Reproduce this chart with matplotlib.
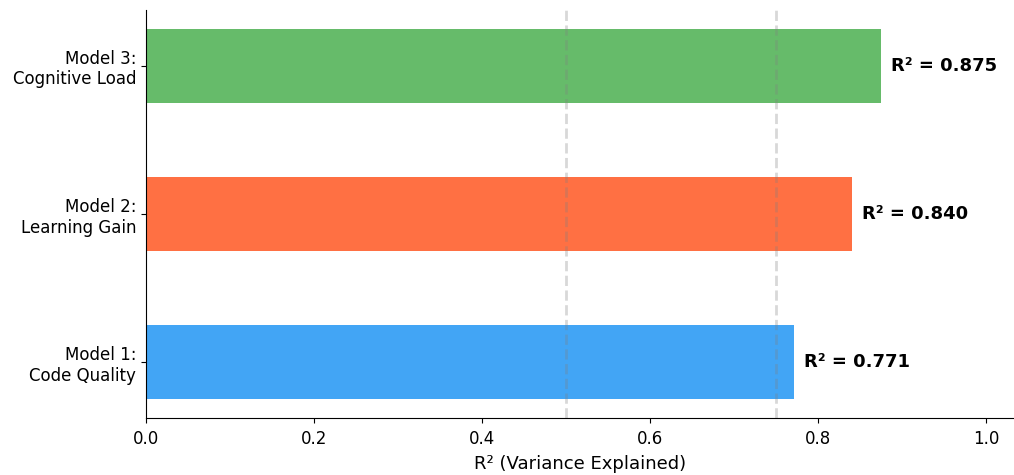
import matplotlib
matplotlib.use("Agg")
import matplotlib.pyplot as plt

models = ["Model 1:\nCode Quality", "Model 2:\nLearning Gain", "Model 3:\nCognitive Load"]
r2_values = [0.771, 0.840, 0.875]
colors = ["#42A5F5", "#FF7043", "#66BB6A"]
ref_lines = [0.5, 0.75]
xticks = [0.0, 0.2, 0.4, 0.6, 0.8, 1.0]

fig = plt.figure(figsize=(10.14, 4.75), dpi=100)
ax = fig.add_axes([0.144, 0.12, 0.856, 0.859])

ax.barh(range(len(models)), r2_values, height=0.5, color=colors)

for x in ref_lines:
    ax.axvline(x, color="gray", linestyle="--", linewidth=2, alpha=0.3)

for i, v in enumerate(r2_values):
    ax.text(v + 0.012, i, f"R² = {v:.3f}", va="center", ha="left",
            fontsize=13, fontweight="bold")

ax.set_yticks(range(len(models)))
ax.set_yticklabels(models, fontsize=12)
ax.set_xticks(xticks)
ax.set_xticklabels([f"{t:.1f}" for t in xticks], fontsize=12)
ax.tick_params(axis="x", pad=5)
ax.set_xlim(0, 1.033)
ax.set_xlabel("R² (Variance Explained)", fontsize=13, labelpad=5)

ax.spines["top"].set_visible(False)
ax.spines["right"].set_visible(False)

plt.savefig("out.png", dpi=100)
plt.close()
